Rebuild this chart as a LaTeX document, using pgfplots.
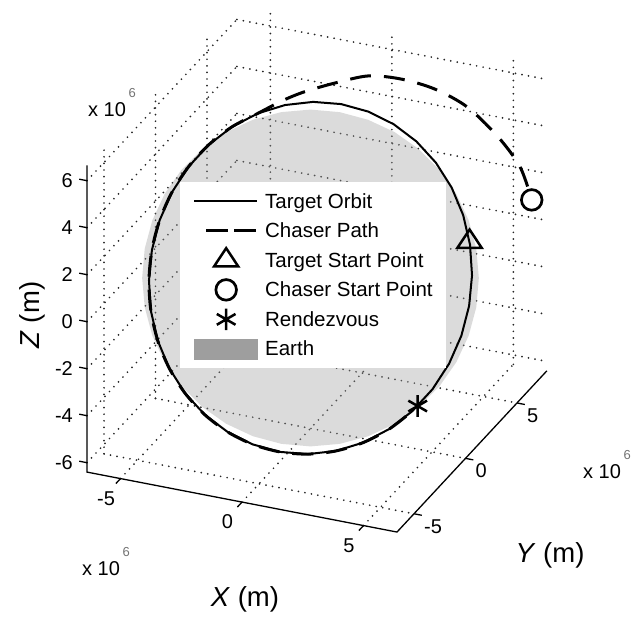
\documentclass[border=0pt]{standalone}
\usepackage{pgfplots}
\pgfplotsset{compat=1.18}
\usepackage{pgfplotstable}
\usepackage{fontspec}
\setmainfont{Liberation Sans}

\definecolor{earthgray}{gray}{0.62}
\definecolor{gridgray}{gray}{0.15}

% Earth limb: great circle of radius 6.378 normal to the line of sight (units of 1e6 m)
\pgfplotstableread{
x y z
5.873 2.489 0
5.981 1.987 -0.986
5.906 1.425 -1.943
5.653 0.820 -2.840
5.227 0.189 -3.651
4.643 -0.447 -4.351
3.918 -1.069 -4.919
3.074 -1.660 -5.337
2.136 -2.199 -5.594
1.133 -2.672 -5.680
0.096 -3.063 -5.594
-0.944 -3.362 -5.337
-1.956 -3.559 -4.919
-2.907 -3.647 -4.351
-3.771 -3.625 -3.651
-4.519 -3.492 -2.840
-5.132 -3.253 -1.943
-5.587 -2.915 -0.986
-5.873 -2.489 0
-5.981 -1.987 0.986
-5.906 -1.425 1.943
-5.653 -0.820 2.840
-5.227 -0.189 3.651
-4.643 0.447 4.351
-3.918 1.069 4.919
-3.074 1.660 5.337
-2.136 2.199 5.594
-1.133 2.672 5.680
-0.096 3.063 5.594
0.944 3.362 5.337
1.956 3.559 4.919
2.907 3.647 4.351
3.771 3.625 3.651
4.519 3.492 2.840
5.132 3.253 1.943
5.587 2.915 0.986
}\earthrim

% target orbit, radius 6.688
\pgfplotstableread{
x y z
-0.101 3.213 5.865
0.728 3.884 5.396
1.536 4.438 4.762
2.297 4.856 3.984
2.988 5.127 3.085
3.588 5.242 2.092
4.080 5.199 1.036
4.447 4.997 -0.052
4.679 4.643 -1.139
4.769 4.148 -2.190
4.714 3.527 -3.175
4.516 2.799 -4.064
4.181 1.985 -4.830
3.718 1.112 -5.448
3.143 0.205 -5.901
2.472 -0.708 -6.174
1.726 -1.600 -6.260
0.928 -2.444 -6.156
0.101 -3.213 -5.865
-0.728 -3.884 -5.396
-1.536 -4.438 -4.762
-2.297 -4.856 -3.984
-2.988 -5.127 -3.085
-3.588 -5.242 -2.092
-4.080 -5.199 -1.036
-4.447 -4.997 0.052
-4.679 -4.643 1.139
-4.769 -4.148 2.190
-4.714 -3.527 3.175
-4.516 -2.799 4.064
-4.181 -1.985 4.830
-3.718 -1.112 5.448
-3.143 -0.205 5.901
-2.472 0.708 6.174
-1.726 1.600 6.260
-0.928 2.444 6.156
-0.101 3.213 5.865
}\orbit

% chaser: coplanar descent onto the target orbit, then along it to rendezvous
\pgfplotstableread{
x y z
5.985 7.360 1.050
5.457 7.471 2.298
4.646 7.247 3.518
3.574 6.767 4.807
2.543 6.092 5.672
1.519 5.277 6.276
0.549 4.389 6.642
-0.352 3.377 6.654
-1.221 2.352 6.579
-1.811 1.606 6.438
-2.472 0.708 6.174
-3.143 -0.205 5.901
-3.718 -1.112 5.448
-4.181 -1.985 4.830
-4.516 -2.799 4.064
-4.714 -3.527 3.175
-4.769 -4.148 2.190
-4.679 -4.643 1.139
-4.447 -4.997 0.052
-4.080 -5.199 -1.036
-3.588 -5.242 -2.092
-2.988 -5.127 -3.085
-2.297 -4.856 -3.984
-1.536 -4.438 -4.762
-0.728 -3.884 -5.396
0.101 -3.213 -5.865
0.928 -2.444 -6.156
1.726 -1.600 -6.260
2.472 -0.708 -6.174
3.143 0.205 -5.901
3.718 1.112 -5.448
3.845 1.335 -5.309
}\chaser

\newcommand{\tickfont}{\fontsize{20}{24}\selectfont}
\newcommand{\labelfont}{\fontsize{27.5}{32}\selectfont}
\newcommand{\scalelabel}{x 10\hspace{2.5pt}\raisebox{19.4pt}{\fontsize{13}{13}\selectfont\color{black!55}6}}
% fixed-size cell for every legend sample
\newcommand{\legendcell}{\path[draw=none, fill=none] (0pt,-14.75pt) rectangle (63pt,14.75pt);}

\begin{document}
\begin{tikzpicture}
\begin{axis}[
  x={(24.3pt,-4.7pt)}, y={(10.3pt,11.08pt)}, z={(0pt,23.5pt)},
  xmin=-6.378, xmax=6.378, ymin=-6.65, ymax=7.9, zmin=-6.4, zmax=6.65,
  xtick={-5,0,5}, ytick={-5,0,5}, ztick={-6,-4,-2,0,2,4,6},
  xticklabels={}, yticklabels={}, zticklabels={},
  grid=major,
  major grid style={gridgray, line width=1.9pt, line cap=round, dash pattern=on 0pt off 6.6pt},
  axis line style={draw=none},
  tick style={draw=none},
  major tick length=0pt,
  clip=false,
  legend cell align=left,
  legend style={
    at={(axis cs:-5.2,-0.406,3.24)}, anchor=north west,
    draw=none, fill=white,
    inner xsep=13pt, inner ysep=4.5pt,
    row sep=0pt, column sep=7pt,
    font=\fontsize{20.5}{24}\selectfont,
    nodes={inner sep=0pt},
  },
]
\coordinate (O) at (axis cs:0,0,0);

% Earth
\addplot3[draw=none, fill=earthgray, fill opacity=0.37, forget plot] table {\earthrim};
% target orbit
\addplot3[black, line width=2pt, line join=round, forget plot] table {\orbit};
% chaser path
\addplot3[black, line width=3pt, smooth, dash pattern=on 21pt off 13pt, dash phase=20pt, forget plot] table {\chaser};
% start points and rendezvous
\addplot3[only marks, mark=triangle, mark size=14pt, mark options={yscale=0.87, line width=2.5pt, black}, forget plot]
  coordinates {(4.416,5.025,0.057)};
\addplot3[only marks, mark=*, mark size=10.3pt, mark options={line width=2.7pt, draw=black, fill=white}, forget plot]
  coordinates {(5.985,7.360,1.050)};
\addplot3[only marks, mark=asterisk, mark size=10.8pt, mark options={line width=2.5pt, black}, forget plot]
  coordinates {(3.845,1.335,-5.309)};

% axis lines
\draw[black, line width=1.3pt] (axis cs:-6.378,-6.65,6.65) -- (axis cs:-6.378,-6.65,-6.4)
  -- (axis cs:6.378,-6.65,-6.4) -- (axis cs:6.378,7.9,-6.4);
% tick marks
\draw[black, line width=1.3pt]
  (axis cs:-5,-6.65,-6.4) -- (axis cs:-5,-7.1,-6.4)
  (axis cs:0,-6.65,-6.4) -- (axis cs:0,-7.1,-6.4)
  (axis cs:5,-6.65,-6.4) -- (axis cs:5,-7.1,-6.4)
  (axis cs:6.378,-5,-6.4) -- (axis cs:6.7,-5,-6.4)
  (axis cs:6.378,0,-6.4) -- (axis cs:6.7,0,-6.4)
  (axis cs:6.378,5,-6.4) -- (axis cs:6.7,5,-6.4)
  (axis cs:-6.378,-6.65,-6) -- (axis cs:-6.7,-6.65,-6)
  (axis cs:-6.378,-6.65,-4) -- (axis cs:-6.7,-6.65,-4)
  (axis cs:-6.378,-6.65,-2) -- (axis cs:-6.7,-6.65,-2)
  (axis cs:-6.378,-6.65,0) -- (axis cs:-6.7,-6.65,0)
  (axis cs:-6.378,-6.65,2) -- (axis cs:-6.7,-6.65,2)
  (axis cs:-6.378,-6.65,4) -- (axis cs:-6.7,-6.65,4)
  (axis cs:-6.378,-6.65,6) -- (axis cs:-6.7,-6.65,6);

% tick labels
\node[font=\tickfont, inner sep=0pt, xshift=-14.5pt, yshift=-20pt] at (axis cs:-5,-6.65,-6.4) {-5};
\node[font=\tickfont, inner sep=0pt, xshift=-14.5pt, yshift=-20pt] at (axis cs:0,-6.65,-6.4) {0};
\node[font=\tickfont, inner sep=0pt, xshift=-14.5pt, yshift=-20pt] at (axis cs:5,-6.65,-6.4) {5};
\node[font=\tickfont, inner sep=0pt, anchor=west, xshift=10pt, yshift=-12.5pt] at (axis cs:6.378,-5,-6.4) {-5};
\node[font=\tickfont, inner sep=0pt, anchor=west, xshift=10pt, yshift=-12.5pt] at (axis cs:6.378,0,-6.4) {0};
\node[font=\tickfont, inner sep=0pt, anchor=west, xshift=10pt, yshift=-12.5pt] at (axis cs:6.378,5,-6.4) {5};
\node[font=\tickfont, inner sep=0pt, anchor=east, xshift=-14pt] at (axis cs:-6.378,-6.65,6) {6};
\node[font=\tickfont, inner sep=0pt, anchor=east, xshift=-14pt] at (axis cs:-6.378,-6.65,4) {4};
\node[font=\tickfont, inner sep=0pt, anchor=east, xshift=-14pt] at (axis cs:-6.378,-6.65,2) {2};
\node[font=\tickfont, inner sep=0pt, anchor=east, xshift=-14pt] at (axis cs:-6.378,-6.65,0) {0};
\node[font=\tickfont, inner sep=0pt, anchor=east, xshift=-14pt] at (axis cs:-6.378,-6.65,-2) {-2};
\node[font=\tickfont, inner sep=0pt, anchor=east, xshift=-14pt] at (axis cs:-6.378,-6.65,-4) {-4};
\node[font=\tickfont, inner sep=0pt, anchor=east, xshift=-14pt] at (axis cs:-6.378,-6.65,-6) {-6};

% legend
\addlegendimage{legend image code/.code={\legendcell
  \draw[black, line width=2pt] (0pt,0pt) -- (63pt,0pt);}}
\addlegendentry{Target Orbit}
\addlegendimage{legend image code/.code={\legendcell
  \draw[black, line width=3pt] (12pt,0pt) -- (34pt,0pt) (40pt,0pt) -- (62pt,0pt);}}
\addlegendentry{Chaser Path}
\addlegendimage{legend image code/.code={\legendcell
  \draw[black, line width=2.5pt, line join=miter] (32pt,12.18pt) -- (44.12pt,-6.09pt) -- (19.88pt,-6.09pt) -- cycle;}}
\addlegendentry{Target Start Point}
\addlegendimage{legend image code/.code={\legendcell
  \draw[black, line width=2.7pt] (32pt,0pt) circle (10.3pt);}}
\addlegendentry{Chaser Start Point}
\addlegendimage{legend image code/.code={\legendcell
  \draw[black, line width=2.5pt] (32pt,-10.8pt) -- (32pt,10.8pt)
    (22.65pt,-5.4pt) -- (41.35pt,5.4pt) (22.65pt,5.4pt) -- (41.35pt,-5.4pt);}}
\addlegendentry{Rendezvous}
\addlegendimage{legend image code/.code={\legendcell
  \fill[earthgray] (0pt,-10pt) rectangle (63pt,10pt);}}
\addlegendentry{Earth}
\end{axis}

% axis titles
\node[font=\labelfont, anchor=base] at ([shift={(-65.5pt,-329pt)}]O) {\textit{X} (m)};
\node[font=\labelfont, anchor=base] at ([shift={(239.5pt,-285pt)}]O) {\textit{Y} (m)};
\node[font=\labelfont, anchor=base, rotate=90] at ([shift={(-271pt,-37pt)}]O) {\textit{Z} (m)};

% axis scale factors
\node[font=\tickfont, anchor=base west, inner sep=0pt] at ([shift={(-222.5pt,161.4pt)}]O) {\scalelabel};
\node[font=\tickfont, anchor=base west, inner sep=0pt] at ([shift={(-228.5pt,-297.6pt)}]O) {\scalelabel};
\node[font=\tickfont, anchor=base west, inner sep=0pt] at ([shift={(272.5pt,-200.6pt)}]O) {\scalelabel};

\pgfresetboundingbox
\path[use as bounding box] ([shift={(-310.5pt,-339pt)}]O) rectangle ([shift={(323.5pt,278pt)}]O);
\end{tikzpicture}
\end{document}
